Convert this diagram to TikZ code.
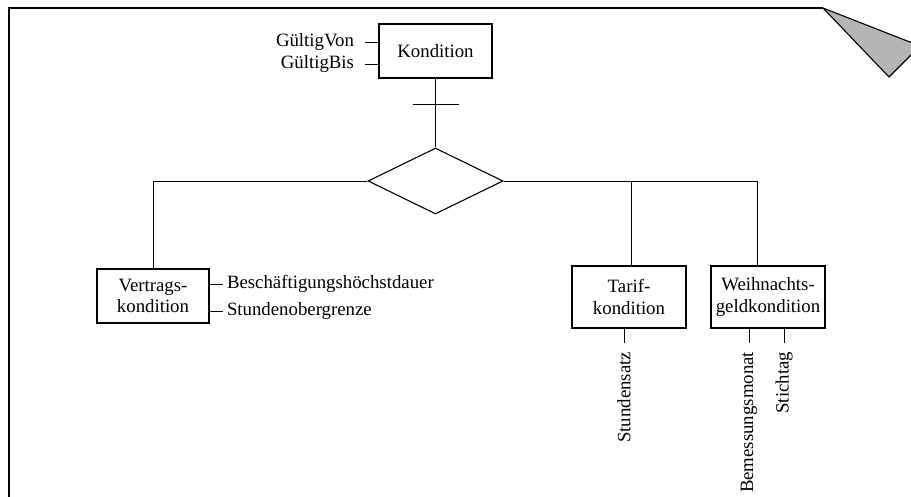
\documentclass[tikz,border=0pt]{standalone}
\usepackage{fontspec}
\setmainfont{Liberation Serif}
\usetikzlibrary{shapes.geometric}
\definecolor{foldgray}{gray}{0.71}
\begin{document}
\begin{tikzpicture}[x=1pt,y=-1pt,
  txt/.style={font=\fontsize{18.8}{21.5}\selectfont},
  entity/.style={txt, draw, line width=1.3pt, align=center, inner sep=0pt},
  attr/.style={txt, inner sep=0pt},
  link/.style={line width=0.9pt},
  relation/.style={draw, diamond, line width=1.1pt, inner sep=0pt,
    minimum width=135pt, minimum height=66pt}]
\useasboundingbox (0,0) rectangle (911,496);
\begin{scope}
\clip (0,0) rectangle (911,496);
% page frame with folded corner
\draw[line width=1.2pt] (9,500) -- (9,8) -- (823,8);
\draw[line width=1.1pt, fill=foldgray, line join=round] (823,8) -- (920,46) -- (889,77) -- cycle;
\end{scope}

% entities
\node[entity, minimum width=113pt, minimum height=54pt] (kond) at (435.5,51) {Kondition};
\node[entity, minimum width=112pt, minimum height=54pt] (vert) at (153,296) {Vertrags-\\kondition};
\node[entity, minimum width=114pt, minimum height=62pt] (tarif) at (629,297) {Tarif-\\kondition};
\node[entity, minimum width=114pt, minimum height=62pt] (weih) at (768,297) {Weihnachts-\\geldkondition};

% generalisation
\node[relation] (rel) at (435.5,181) {};
\coordinate (bar) at (435.5,104);
\coordinate (ttop) at ([xshift=2pt]tarif.north);
\coordinate (wtop) at ([xshift=-11pt]weih.north);
\draw[link] (kond.south) -- (rel.north);
\draw[link] ([xshift=-23pt]bar) -- ([xshift=23pt]bar);
\draw[link] (rel.west) -| (vert.north);
\draw[link] (rel.east) -| (wtop);
\draw[link] (rel.east -| ttop) -- (ttop);

% attributes of Kondition
\node[attr, anchor=east, outer xsep=11pt] (gv) at (365,42) {GültigVon};
\node[attr, anchor=east, outer xsep=11pt] (gb) at (365,64) {GültigBis};
\draw[link] (gv.east) -- (kond.west |- gv.east);
\draw[link] (gb.east) -- (kond.west |- gb.east);

% attributes of Vertragskondition
\node[attr, anchor=west, outer xsep=4pt] (bhd) at (223,284) {Beschäftigungshöchstdauer};
\node[attr, anchor=west, outer xsep=4pt] (sog) at (223,311) {Stundenobergrenze};
\draw[link] (vert.east |- bhd.west) -- (bhd.west);
\draw[link] (vert.east |- sog.west) -- (sog.west);

% attributes of Tarifkondition
\node[attr, rotate=90, anchor=east, outer xsep=9pt] (ss) at (624,343) {Stundensatz};
\draw[link] (tarif.south -| ss.east) -- (ss.east);

% attributes of Weihnachtsgeldkondition
\node[attr, rotate=90, anchor=east, outer xsep=9pt] (bm) at (749,343) {Bemessungsmonat};
\node[attr, rotate=90, anchor=east, outer xsep=9pt] (st) at (784,343) {Stichtag};
\draw[link] (weih.south -| bm.east) -- (bm.east);
\draw[link] (weih.south -| st.east) -- (st.east);
\end{tikzpicture}
\end{document}
